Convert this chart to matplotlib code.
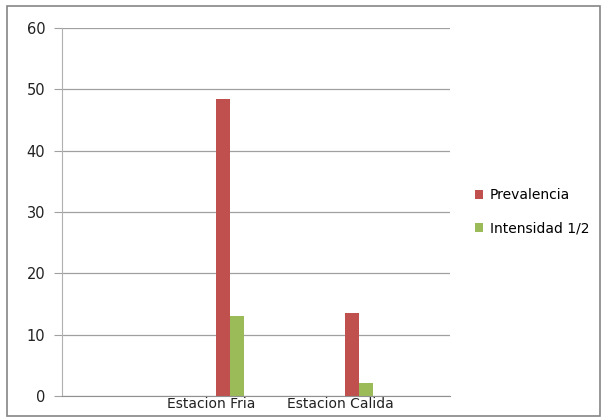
import matplotlib
matplotlib.use('Agg')
import matplotlib.pyplot as plt
import matplotlib.patches as patches
import numpy as np

# Chart data
categories = ['', 'Estacion Fria', 'Estacion Calida']
prevalencia = [0, 48.5, 13.5]
intensidad = [0, 13.0, 2.2]
series_names = ['Prevalencia', 'Intensidad 1/2']
y_ticks = [0, 10, 20, 30, 40, 50, 60]

red = '#C0504D'
green = '#9BBB59'
grid_col = '#A0A0A0'

fig = plt.figure(figsize=(6.04, 4.17), dpi=100)

# Outer frame like the Excel chart area
frame = patches.Rectangle((7 / 604, 1 / 417), 593 / 604, 410 / 417, transform=fig.transFigure,
                          fill=False, edgecolor='#858585', linewidth=1.2)
fig.patches.append(frame)

ax = fig.add_axes([62 / 604, 1 - 396 / 417, 388 / 604, 368 / 417])

x = np.arange(len(categories))
width = 0.108
cluster = x - 0.2

ax.bar(cluster - width / 2, prevalencia, width, color=red, label=series_names[0])
ax.bar(cluster + width / 2, intensidad, width, color=green, label=series_names[1])

ax.set_xlim(-0.5, 2.5)
ax.set_ylim(0, 60)
ax.set_yticks(y_ticks)
ax.yaxis.grid(True, color=grid_col, linewidth=0.9)
ax.set_axisbelow(True)

# Category labels (shifted a bit left of the clusters, as in the source)
ax.set_xticks(cluster[1:] - 0.15)
ax.set_xticklabels(categories[1:], fontsize=10, color='#222222')
ax.tick_params(axis='x', length=0, pad=1)
ax.tick_params(axis='y', length=6, color=grid_col, labelsize=10.5, pad=6, labelcolor='#222222')

for side in ['top', 'right']:
    ax.spines[side].set_visible(False)
ax.spines['left'].set_color('#B0B0B0')
ax.spines['bottom'].set_color('#909090')

ax.legend(loc='center left', bbox_to_anchor=(1.064, 0.50), frameon=False, fontsize=10,
          borderaxespad=0, borderpad=0,
          handlelength=0.6, handleheight=0.6, handletextpad=0.5, labelspacing=1.4)

plt.savefig('out.png', dpi=100)
plt.close(fig)
